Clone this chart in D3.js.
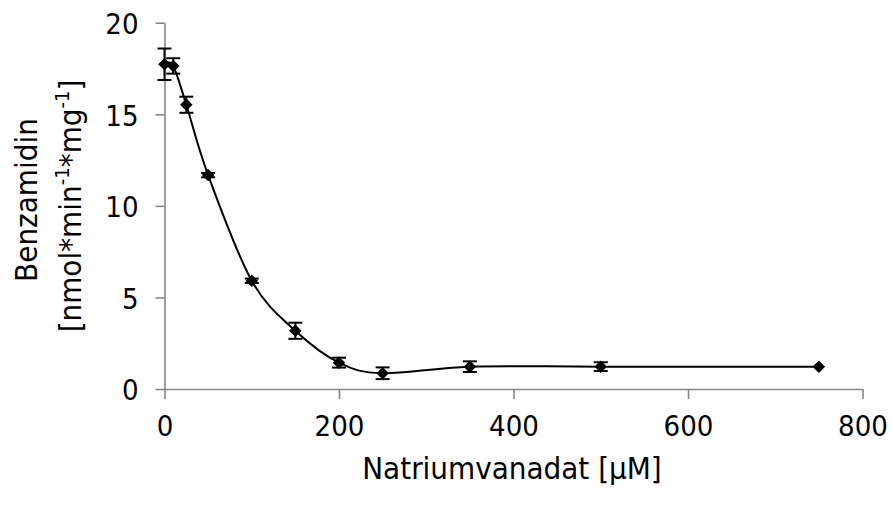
<!DOCTYPE html>
<html>
<head>
<meta charset="utf-8">
<script src="https://cdn.jsdelivr.net/npm/d3@7"></script>
<style>
  html, body { margin: 0; padding: 0; background: #fff; }
  svg { display: block; }
  text { font-family: "DejaVu Sans Condensed", "DejaVu Sans", Verdana, sans-serif; font-stretch: condensed; fill: #000; }
</style>
</head>
<body>
<svg id="chart" width="893" height="506"></svg>
<script>
// ---- data ----
const concentrations = [0, 10, 25, 50, 100, 150, 200, 250, 350, 500, 750];   // µM
const activity       = [17.73, 17.64, 15.52, 11.68, 5.91, 3.18, 1.44, 0.86, 1.22, 1.22, 1.22];
const errors         = [0.86, 0.42, 0.44, 0.12, 0.12, 0.44, 0.27, 0.32, 0.29, 0.24, 0];
const xTicks = [0, 200, 400, 600, 800];
const yTicks = [0, 5, 10, 15, 20];
const xTitle = "Natriumvanadat [µM]";
const yTitle1 = "Benzamidin";

const points = concentrations.map((c, i) => ({ x: c, y: activity[i], e: errors[i] }));

const svg = d3.select("#chart");
const x = d3.scaleLinear().domain([0, 800]).range([164.5, 862.5]);
const y = d3.scaleLinear().domain([0, 20]).range([389, 22.7]);

const axisColor = "#868686";

// axes
const xAxis = svg.append("g").attr("transform", `translate(0,${y(0)})`)
  .call(d3.axisBottom(x).tickValues(xTicks).tickSize(10).tickSizeOuter(0));
const yAxis = svg.append("g").attr("transform", `translate(${x(0)},0)`)
  .call(d3.axisLeft(y).tickValues(yTicks).tickSize(9).tickSizeOuter(0).tickPadding(17));
[xAxis, yAxis].forEach(g => {
  g.selectAll("path, line").attr("stroke", axisColor).attr("stroke-width", 1.6);
  g.selectAll("text").style("font-size", "29px").attr("fill", "#000");
});
xAxis.selectAll("text").attr("y", 47).attr("dy", 0);
yAxis.selectAll("text").attr("dy", "0.37em");

// smooth line
const line = d3.line().x(d => x(d.x)).y(d => y(d.y)).curve(d3.curveCardinal.tension(0));
svg.append("path").datum(points).attr("d", line)
  .attr("fill", "none").attr("stroke", "#000").attr("stroke-width", 2);

// error bars
const eb = svg.append("g").attr("stroke", "#000").attr("stroke-width", 2);
points.filter(d => d.e > 0).forEach(d => {
  const cx = x(d.x), yt = y(d.y + d.e), yb = y(d.y - d.e);
  eb.append("line").attr("x1", cx).attr("x2", cx).attr("y1", yt).attr("y2", yb);
  eb.append("line").attr("x1", cx - 7).attr("x2", cx + 7).attr("y1", yt).attr("y2", yt);
  eb.append("line").attr("x1", cx - 7).attr("x2", cx + 7).attr("y1", yb).attr("y2", yb);
});

// diamond markers
const diamond = d3.symbol().type(d3.symbolDiamond2).size(100);
svg.append("g").selectAll("path").data(points).join("path")
  .attr("transform", d => `translate(${x(d.x)},${y(d.y)})`)
  .attr("d", diamond).attr("fill", "#000");

// x title
svg.append("text").attr("x", 512).attr("y", 479).attr("text-anchor", "middle")
  .style("font-size", "31px").text(xTitle);

// y title (two lines, rotated)
svg.append("text").attr("transform", "translate(37,200) rotate(-90)")
  .attr("text-anchor", "middle").style("font-size", "31px").text(yTitle1);
const t2 = svg.append("text").attr("transform", "translate(81,206) rotate(-90)")
  .attr("text-anchor", "middle").style("font-size", "31px");
t2.append("tspan").text("[nmol*min");
t2.append("tspan").attr("dy", -12).style("font-size", "20px").text("-1");
t2.append("tspan").attr("dy", 12).text("*mg");
t2.append("tspan").attr("dy", -12).style("font-size", "20px").text("-1");
t2.append("tspan").attr("dy", 12).text("]");
</script>
</body>
</html>
